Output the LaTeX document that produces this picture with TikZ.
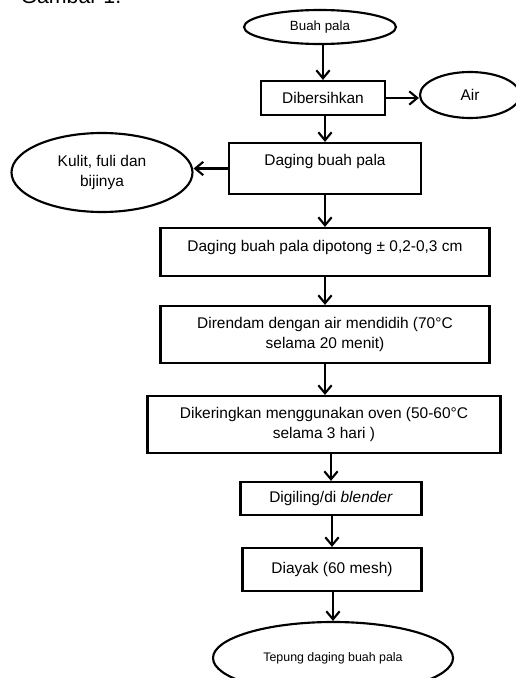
\documentclass[tikz,border=0pt]{standalone}
\usepackage{fontspec}
\setmainfont{Liberation Sans}
\usetikzlibrary{shapes.geometric,arrows.meta}
\begin{document}
\begin{tikzpicture}[x=0.75pt, y=-0.75pt, line width=1.6pt,
  box/.style={draw, rectangle, inner sep=0pt, align=center, font=\fontsize{11.6}{15}\selectfont},
  oval/.style={draw, ellipse, inner sep=0pt, align=center, font=\fontsize{11.6}{15}\selectfont},
  flow/.style={-{Straight Barb[length=6pt, width=10pt, line width=1.6pt]}}]
\useasboundingbox (0,0) rectangle (516,678);
\node[anchor=base west, font=\fontsize{16}{18}\selectfont] (gambar) at (15,3) {Gambar 1.};
\node[oval, minimum width=114pt, minimum height=25.5pt, font=\fontsize{10}{12}\selectfont] (buah) at (320,27) {Buah pala};
\node[box, minimum width=93pt, minimum height=25.5pt] (bersih) at (323,98) {Dibersihkan};
\node[oval, minimum width=75pt, minimum height=34.5pt] (air) at (470,95) {Air};
\node[box, minimum width=144pt, minimum height=38.25pt, text height=8pt, text depth=12.5pt] (daging) at (325,168.5) {Daging buah pala};
\node[oval, minimum width=135.75pt, minimum height=59.25pt] (kulit) at (102,172.5) {Kulit, fuli dan\\bijinya};
\node[box, minimum width=246.75pt, minimum height=36pt, text height=8pt, text depth=9pt] (potong) at (325,252) {Daging buah pala dipotong ± 0,2-0,3 cm};
\node[box, minimum width=246.75pt, minimum height=42.75pt] (rendam) at (325,334.5) {Direndam dengan air mendidih (70°C\\selama 20 menit)};
\node[box, minimum width=264.75pt, minimum height=42.75pt] (kering) at (324,424.5) {Dikeringkan menggunakan oven (50-60°C\\selama 3 hari )};
\node[box, minimum width=135.75pt, minimum height=24.75pt] (giling) at (331,498.5) {Digiling/di \textit{blender}};
\node[box, minimum width=134.25pt, minimum height=32.25pt] (ayak) at (332,569.5) {Diayak (60 mesh)};
\node[oval, minimum width=180pt, minimum height=54pt, font=\fontsize{9.3}{12}\selectfont] (tepung) at (333,658) {Tepung daging buah pala};
\draw[flow] (bersih.north |- buah.south) -- (bersih.north);
\draw[flow] (bersih.east) -- (bersih.east -| air.west);
\draw[flow] (daging.north |- bersih.south) -- (daging.north);
\draw[flow] (daging.west) -- (daging.west -| kulit.east);
\draw[flow] (potong.north |- daging.south) -- (potong.north);
\draw[flow] (rendam.north |- potong.south) -- (rendam.north);
\draw[flow] (rendam.south) -- (rendam.south |- kering.north);
\draw[flow] (giling.north |- kering.south) -- (giling.north);
\draw[flow] (ayak.north |- giling.south) -- (ayak.north);
\draw[flow] (tepung.north |- ayak.south) -- (tepung.north);
\end{tikzpicture}
\end{document}
